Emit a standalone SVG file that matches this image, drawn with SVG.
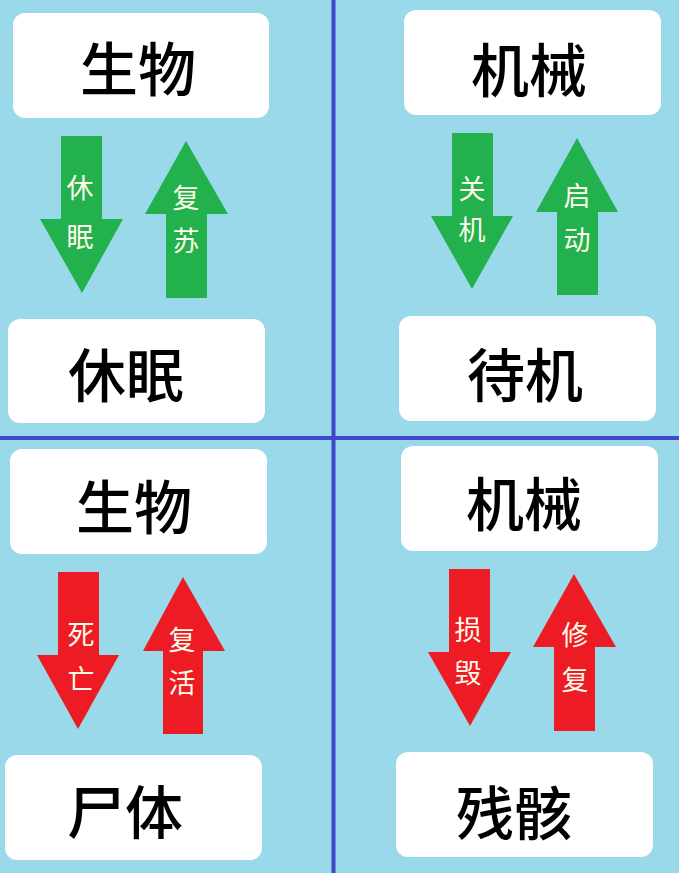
<svg xmlns="http://www.w3.org/2000/svg" width="679" height="873" viewBox="0 0 679 873">
<style>
.bg{fill:#99d9ea}
.div{stroke:#3f48cc;stroke-width:4}
.box{fill:#ffffff}
.t{font-family:"Noto Sans CJK SC","Noto Sans CJK JP",sans-serif;font-size:58px;font-weight:500;fill:#000;text-anchor:middle;dominant-baseline:central}
.g{fill:#22b14c}
.r{fill:#ed1c24}
.l{font-family:"Noto Sans CJK SC","Noto Sans CJK JP",sans-serif;font-size:27px;fill:#fffbea;text-anchor:middle;dominant-baseline:central}
</style>
<rect class="bg" x="0" y="0" width="679" height="873"/>
<g id="dividers">
<line class="div" x1="333.5" y1="0" x2="333.5" y2="873"/>
<line class="div" x1="0" y1="438" x2="679" y2="438"/>
</g>
<g id="node-bio1"><rect class="box" x="13" y="13" width="256" height="105" rx="12"/><text class="t" x="138" y="66">生物</text></g>
<g id="node-hibernate"><rect class="box" x="8" y="319" width="257" height="104" rx="12"/><text class="t" x="126" y="372">休眠</text></g>
<g id="node-mech1"><rect class="box" x="404" y="10" width="257" height="105" rx="12"/><text class="t" x="529" y="67">机械</text></g>
<g id="node-standby"><rect class="box" x="399" y="316" width="257" height="105" rx="12"/><text class="t" x="525" y="372">待机</text></g>
<g id="node-bio2"><rect class="box" x="10" y="449" width="257" height="105" rx="12"/><text class="t" x="134" y="504">生物</text></g>
<g id="node-corpse"><rect class="box" x="5" y="755" width="257" height="105" rx="12"/><text class="t" x="125" y="809">尸体</text></g>
<g id="node-mech2"><rect class="box" x="401" y="446" width="257" height="105" rx="12"/><text class="t" x="524" y="501">机械</text></g>
<g id="node-wreck"><rect class="box" x="396" y="752" width="257" height="105" rx="12"/><text class="t" x="514" y="810">残骸</text></g>
<g id="connectors">
<g id="c-hibernate"><polygon class="g" points="61,136 102,136 102,219 123,219 82,293 40,219 61,219"/><text class="l" x="80" y="186">休</text><text class="l" x="80" y="235">眠</text></g>
<g id="c-revive"><polygon class="g" points="186,141 228,214 207,214 207,298 166,298 166,214 145,214"/><text class="l" x="186" y="196">复</text><text class="l" x="186" y="239">苏</text></g>
<g id="c-shutdown"><polygon class="g" points="452,133 493,133 493,216 513,216 472,289 431,216 452,216"/><text class="l" x="472" y="187">关</text><text class="l" x="472" y="228">机</text></g>
<g id="c-start"><polygon class="g" points="577,138 618,212 598,212 598,295 557,295 557,212 536,212"/><text class="l" x="577" y="194">启</text><text class="l" x="577" y="238">动</text></g>
<g id="c-death"><polygon class="r" points="58,572 99,572 99,655 119,655 78,729 37,655 58,655"/><text class="l" x="81" y="633">死</text><text class="l" x="81" y="677">亡</text></g>
<g id="c-resurrect"><polygon class="r" points="183,577 225,651 203,651 203,734 163,734 163,651 143,651"/><text class="l" x="182" y="638">复</text><text class="l" x="182" y="681">活</text></g>
<g id="c-destroy"><polygon class="r" points="449,569 490,569 490,652 511,652 470,726 428,652 449,652"/><text class="l" x="468" y="628">损</text><text class="l" x="468" y="671">毁</text></g>
<g id="c-repair"><polygon class="r" points="574,574 616,647 595,647 595,731 554,731 554,647 533,647"/><text class="l" x="575" y="633">修</text><text class="l" x="575" y="678">复</text></g>
</g>
</svg>
